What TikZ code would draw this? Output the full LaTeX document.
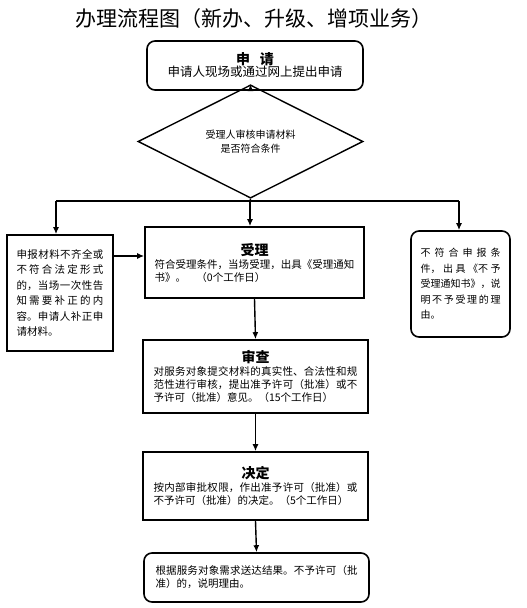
\documentclass[tikz,border=0pt]{standalone}
\usepackage{fontspec}
\setmainfont{Noto Sans CJK SC}
\usetikzlibrary{shapes,arrows.meta}
\XeTeXlinebreaklocale "zh"
\XeTeXlinebreakskip=0pt plus 2pt
\newcommand{\headfont}{\fontsize{14pt}{17pt}\selectfont\bfseries}
\newcommand{\headtext}[1]{{\centering\headfont #1\par}}

\begin{document}
\begin{tikzpicture}[x=1pt,y=-1pt,
squarednode/.style={rectangle, draw=black, line width=1.6pt, inner sep=0pt},
roundednode/.style={squarednode, rounded corners=8pt},
decisionnode/.style={diamond, draw=black, line width=1.4pt, minimum width=225pt, minimum height=73pt, inner sep=0pt},
bodytext/.style={align=justify, font=\fontsize{10.5pt}{13pt}\selectfont},
linkline/.style={line width=1.4pt},
flowline/.style={linkline, -{Latex[length=7pt,width=6pt]}}
]
\useasboundingbox (0,0) rectangle (527,608);

%Nodes
\node[font=\fontsize{21pt}{21pt}\selectfont] at (254,19) (title) {办理流程图（新办、升级、增项业务）};

\node[roundednode, minimum width=216pt, minimum height=49pt, align=center] at (255,65.5) (apply)
  {\headfont 申\hspace{0.7em}请\\ \fontsize{12.5pt}{15pt}\selectfont\mdseries 申请人现场或通过网上提出申请};

\node[decisionnode, align=center, font=\fontsize{10pt}{14pt}\selectfont] at (250.5,141.5) (check)
  {受理人审核申请材料\\是否符合条件};

\coordinate (split) at (250,201);
\coordinate (leftturn) at (56,201);
\coordinate (rightturn) at (459,201);

\node[squarednode, bodytext, minimum width=106pt, minimum height=116pt, text width=87pt,
  font=\fontsize{10.5pt}{15.4pt}\selectfont] at (60,293) (incomplete)
  {申报材料不齐全或\linebreak 不符合法定形式\linebreak 的，当场一次性告\linebreak 知需要补正的内\linebreak 容。申请人补正申\linebreak 请材料。};

\node[squarednode, bodytext, minimum width=219pt, minimum height=71pt, text width=200pt] at (254.5,262.5) (accept)
  {\headtext{受理}符合受理条件，当场受理，出具《受理通知\linebreak 书》。\hspace{1em}（0个工作日）};

\node[roundednode, bodytext, minimum width=99pt, minimum height=106pt, text width=80pt,
  font=\fontsize{10pt}{15.5pt}\selectfont] at (460.5,284) (reject)
  {不符合申报条\linebreak 件，出具《不予\linebreak 受理通知书》，说\linebreak 明不予受理的理\linebreak 由。};

\node[squarednode, bodytext, minimum width=225pt, minimum height=73pt, text width=204pt] at (255.5,376.5) (review)
  {\headtext{审查}对服务对象提交材料的真实性、合法性和规\linebreak 范性进行审核，提出准予许可（批准）或不\linebreak 予许可（批准）意见。（15个工作日）};

\node[squarednode, bodytext, minimum width=225pt, minimum height=68pt, text width=204pt] at (255.5,486) (decide)
  {\headtext{决定}按内部审批权限，作出准予许可（批准）或\linebreak 不予许可（批准）的决定。（5个工作日）};

\node[roundednode, bodytext, minimum width=225pt, minimum height=49pt, text width=202pt] at (256.5,577.5) (result)
  {根据服务对象需求送达结果。不予许可（批\linebreak 准）的，说明理由。};

%Lines
\draw[flowline] (apply.south -| check.north) -- (check.north);
\draw[linkline] (check.south) -- (split);
\draw[linkline] (leftturn) -- (rightturn);
\draw[flowline] (leftturn) -- (leftturn |- incomplete.north);
\draw[flowline] (split) -- (split |- accept.north);
\draw[flowline] (rightturn) -- (rightturn |- reject.north);
\draw[flowline] ([yshift=37pt]incomplete.east) -- ([yshift=37pt]incomplete.east -| accept.west);
\draw[flowline] (accept.south) -- (review.north);
\draw[flowline] (review.south) -- (decide.north);
\draw[flowline] (decide.south) -- (result.north);

\end{tikzpicture}
\end{document}
